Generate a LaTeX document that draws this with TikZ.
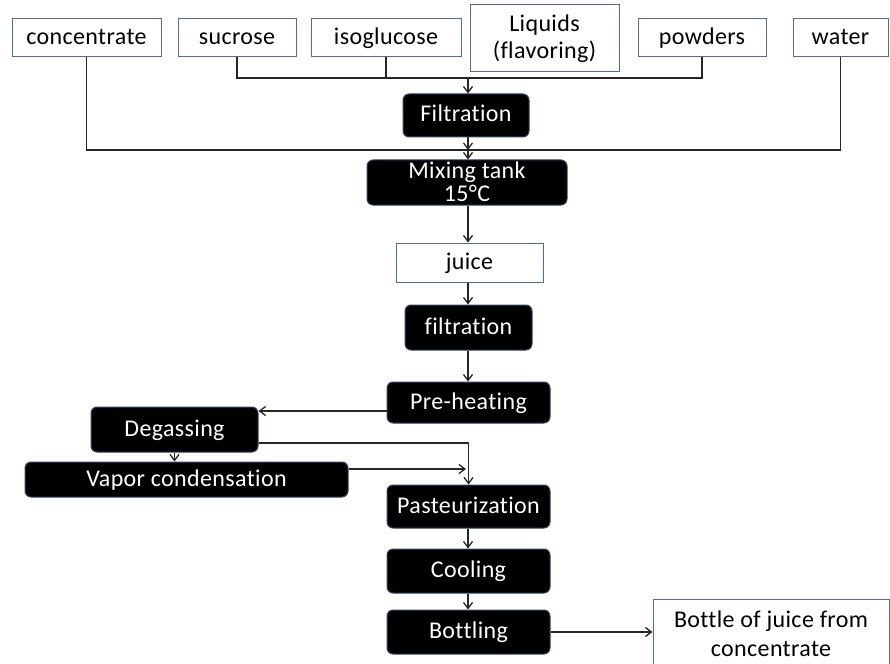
\documentclass[tikz,border=0pt]{standalone}
\usepackage{fontspec}
\setmainfont{Carlito}[LetterSpace=1.5, Ligatures=NoCommon]
\usetikzlibrary{arrows.meta}
\definecolor{wborder}{RGB}{79,110,160}
\definecolor{bborder}{RGB}{50,70,100}
\tikzset{
  wbox/.style={draw=wborder, line width=1pt, fill=white, inner sep=0pt, align=center, text=black, font=\fontsize{24}{27}\selectfont, text height=18pt, text depth=4pt},
  bbox/.style={draw=bborder, line width=1pt, fill=black, rounded corners=6pt, inner sep=0pt, align=center, text=white, font=\fontsize{24}{22}\selectfont, text height=17pt, text depth=4pt},
  conn/.style={line width=1.3pt, draw=black!85},
  arr/.style={conn, -{Straight Barb[length=6pt,width=9pt]}}
}
\begin{document}
\begin{tikzpicture}[x=1pt,y=-1pt]
\useasboundingbox (0,0) rectangle (890,663);
% top inputs
\node[wbox, minimum width=149, minimum height=38] (conc) at (86.5,38) {concentrate};
\node[wbox, minimum width=118, minimum height=38] (sucr) at (237,38) {sucrose};
\node[wbox, minimum width=150, minimum height=38] (isog) at (386,38) {isoglucose};
\node[wbox, minimum width=149, minimum height=67, text height=, text depth=] (liq) at (544.5,38.5) {Liquids\\(flavoring)};
\node[wbox, minimum width=128, minimum height=38] (powd) at (702,38) {powders};
\node[wbox, minimum width=95, minimum height=38] (water) at (840.5,38) {water};
% process
\node[bbox, minimum width=126, minimum height=43] (filt) at (466,115.5) {Filtration};
\node[bbox, minimum width=200, minimum height=45, text height=, text depth=,
  label={[text=white, align=center, font=\fontsize{24}{23}\selectfont, yshift=1pt]center:{Mixing tank\\15°C}}] (mix) at (467,182.5) {};
\node[wbox, minimum width=147, minimum height=39] (juice) at (469.5,262.5) {juice};
\node[bbox, minimum width=127, minimum height=45] (filt2) at (468.5,327.5) {filtration};
\node[bbox, minimum width=163, minimum height=41] (pre) at (468.5,402.5) {Pre-heating};
\node[bbox, minimum width=167, minimum height=45] (degas) at (174.5,429.5) {Degassing};
\node[bbox, minimum width=323, minimum height=35] (vapor) at (186.5,479.5) {Vapor condensation};
\node[bbox, minimum width=163, minimum height=43] (past) at (468.5,506.5) {Pasteurization};
\node[bbox, minimum width=163, minimum height=44] (cool) at (468.5,571) {Cooling};
\node[bbox, minimum width=163, minimum height=44] (bott) at (468.5,632) {Bottling};
\node[wbox, minimum width=236, minimum height=70, font=\fontsize{24}{29}\selectfont, text height=, text depth=] (bottle) at (771,634) {Bottle of juice from\\concentrate};
% bus coordinates
\coordinate (bus1) at (702,78);
\coordinate (bus2) at (840.5,150);
\coordinate (spine) at (468,0);
\coordinate (vend) at (466,469);
% top bus
\draw[conn] (sucr.south) |- (bus1) -- (powd.south);
\draw[conn] (isog.south) -- (isog.south |- bus1);
\draw[arr] (spine |- bus1) -- (spine |- filt.north);
% second bus
\draw[conn] (conc.south) |- (bus2) -- (water.south);
\draw[arr] (spine |- filt.south) -- (spine |- bus2);
\draw[arr] (spine |- bus2) -- (spine |- mix.north);
% main chain
\draw[arr] (spine |- mix.south) -- (spine |- juice.north);
\draw[arr] (spine |- juice.south) -- (spine |- filt2.north);
\draw[arr] (spine |- filt2.south) -- (spine |- pre.north);
\draw[arr] ([yshift=-8.5pt]pre.west) -- ([yshift=-8.5pt]pre.west -| degas.east);
\draw[arr] ([yshift=-13.5pt]degas.east) -| (past.north);
\draw[arr] (degas.south) -- (degas.south |- vapor.north);
\draw[arr] ([yshift=10.5pt]vapor.east) -- (vend);
\draw[arr] (spine |- past.south) -- (spine |- cool.north);
\draw[arr] (spine |- cool.south) -- (spine |- bott.north);
\draw[arr] (bott.east) -- (bott.east -| bottle.west);
\end{tikzpicture}
\end{document}
